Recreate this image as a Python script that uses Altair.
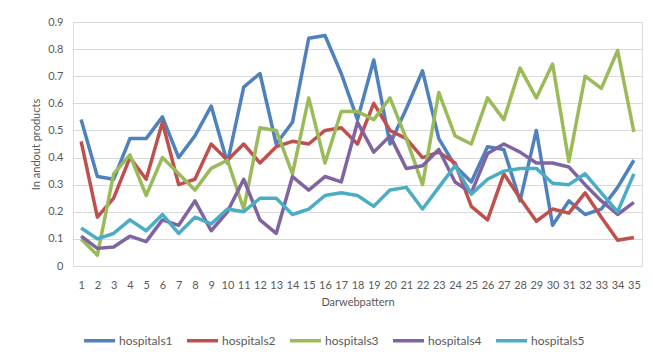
import altair as alt
import pandas as pd

patterns = list(range(1, 36))
series_names = ["hospitals1", "hospitals2", "hospitals3", "hospitals4", "hospitals5"]
colors = ["#4F81BD", "#C0504D", "#9BBB59", "#8064A2", "#4BACC6"]

hospitals1 = [0.54, 0.33, 0.32, 0.47, 0.47, 0.55, 0.40, 0.48, 0.59, 0.38,
              0.66, 0.71, 0.45, 0.53, 0.84, 0.85, 0.71, 0.54, 0.76, 0.45,
              0.58, 0.72, 0.47, 0.37, 0.31, 0.44, 0.43, 0.24, 0.50, 0.15,
              0.24, 0.19, 0.21, 0.29, 0.39]
hospitals2 = [0.46, 0.18, 0.25, 0.40, 0.32, 0.53, 0.30, 0.32, 0.45, 0.39,
              0.45, 0.38, 0.44, 0.46, 0.45, 0.50, 0.51, 0.45, 0.60, 0.50,
              0.47, 0.40, 0.42, 0.38, 0.22, 0.17, 0.34, 0.25, 0.165, 0.21,
              0.195, 0.27, 0.18, 0.095, 0.105]
hospitals3 = [0.10, 0.04, 0.34, 0.41, 0.26, 0.40, 0.34, 0.28, 0.36, 0.39,
              0.21, 0.51, 0.50, 0.34, 0.62, 0.38, 0.57, 0.57, 0.54, 0.62,
              0.47, 0.30, 0.64, 0.48, 0.45, 0.62, 0.54, 0.73, 0.62, 0.745,
              0.385, 0.70, 0.655, 0.795, 0.495]
hospitals4 = [0.11, 0.065, 0.07, 0.11, 0.09, 0.17, 0.15, 0.24, 0.13, 0.20,
              0.32, 0.17, 0.12, 0.33, 0.28, 0.33, 0.31, 0.53, 0.42, 0.48,
              0.36, 0.37, 0.43, 0.31, 0.27, 0.415, 0.45, 0.42, 0.38, 0.38,
              0.365, 0.30, 0.24, 0.19, 0.235]
hospitals5 = [0.14, 0.10, 0.12, 0.17, 0.13, 0.19, 0.12, 0.18, 0.155, 0.21,
              0.20, 0.25, 0.25, 0.19, 0.21, 0.26, 0.27, 0.26, 0.22, 0.28,
              0.29, 0.21, 0.29, 0.37, 0.265, 0.32, 0.35, 0.36, 0.36, 0.305,
              0.30, 0.34, 0.27, 0.20, 0.34]

y_ticks = [0, 0.1, 0.2, 0.3, 0.4, 0.5, 0.6, 0.7, 0.8, 0.9]

all_series = [hospitals1, hospitals2, hospitals3, hospitals4, hospitals5]
rows = []
for name, vals in zip(series_names, all_series):
    for p, v in zip(patterns, vals):
        rows.append({"pattern": p, "value": v, "series": name})
df = pd.DataFrame(rows)

FONT = "Lato"
TXT = "#595959"

chart = alt.Chart(df).mark_line(strokeWidth=3.5, strokeJoin="round").encode(
    x=alt.X("pattern:O", sort=patterns,
            scale=alt.Scale(type="point", padding=0.5),
            axis=alt.Axis(title="Darwebpattern", labelAngle=0, ticks=False,
                          domain=False, grid=False, labelPadding=13,
                          labelOverlap=False, titlePadding=6,
                          labelFontSize=11, titleFontSize=11,
                          labelColor=TXT, titleColor=TXT,
                          labelFont=FONT, titleFont=FONT, titleFontWeight="normal")),
    y=alt.Y("value:Q", scale=alt.Scale(domain=[0, 0.9], nice=False),
            axis=alt.Axis(title="In andout products", values=y_ticks, format="~g",
                          ticks=False, domain=False, grid=True,
                          gridColor="#D9D9D9", gridWidth=1,
                          labelPadding=10, titlePadding=6,
                          labelFontSize=11, titleFontSize=11,
                          labelColor=TXT, titleColor=TXT,
                          labelFont=FONT, titleFont=FONT, titleFontWeight="normal")),
    color=alt.Color("series:N", sort=series_names,
                    scale=alt.Scale(domain=series_names, range=colors),
                    legend=alt.Legend(title=None, orient="none", direction="horizontal",
                                      columns=5, legendX=9, legendY=301, padding=0,
                                      symbolType="stroke", symbolSize=961,
                                      symbolStrokeWidth=3.5, labelFontSize=12,
                                      labelFont=FONT, labelColor=TXT,
                                      labelOffset=2, columnPadding=7)),
).properties(
    width=569, height=244,
    autosize=alt.AutoSizeParams(type="none"),
    padding={"left": 73, "top": 22, "right": 11, "bottom": 94},
).configure_view(stroke=None).configure(background="white")

chart.save("out.html", embed_options={"renderer": "svg", "actions": False})
